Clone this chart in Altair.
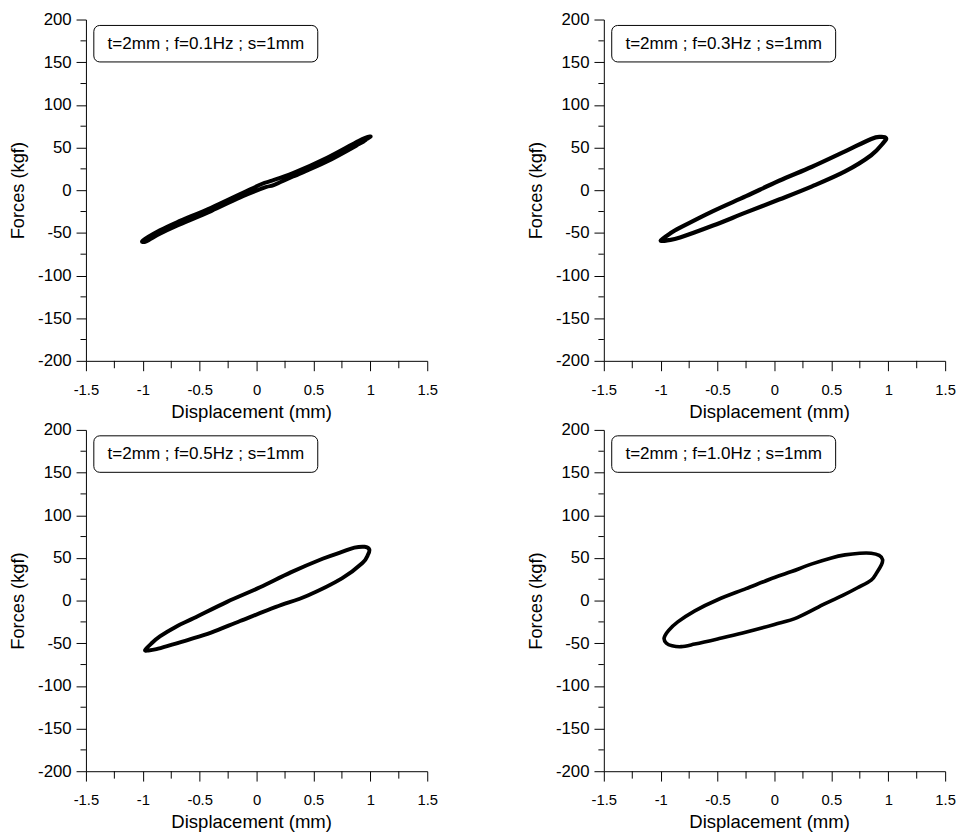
import altair as alt
import pandas as pd

FONT = "Liberation Sans"

labels = ["t=2mm ; f=0.1Hz ; s=1mm", "t=2mm ; f=0.3Hz ; s=1mm",
          "t=2mm ; f=0.5Hz ; s=1mm", "t=2mm ; f=1.0Hz ; s=1mm"]

x_major = [-1.5, -1, -0.5, 0, 0.5, 1, 1.5]
x_minor = [-1.25, -0.75, -0.25, 0.25, 0.75, 1.25]
y_major = [-200, -150, -100, -50, 0, 50, 100, 150, 200]
y_minor = [-175, -125, -75, -25, 25, 75, 125, 175]

# f = 0.1 Hz (very narrow loop)
p1_x = [-1.00, -0.85, -0.70, -0.40, -0.12, 0.05, 0.12, 0.32, 0.61, 0.90, 1.00,
        0.97, 0.90, 0.61, 0.32, 0.15, 0.08, -0.12, -0.40, -0.70, -0.85, -0.97]
p1_y = [-59, -47, -37.5, -20.5, -3, 7.5, 10.5, 20, 37.5, 58, 63,
        60, 54, 33, 16, 6, 3.5, -7, -24.5, -41.5, -51, -60]

# f = 0.3 Hz
p2_x = [-1.00, -0.92, -0.83, -0.54, -0.25, 0.04, 0.33, 0.62, 0.85, 0.93, 0.98,
        0.96, 0.85, 0.62, 0.33, 0.04, -0.25, -0.54, -0.83, -0.93]
p2_y = [-59, -51, -44, -24.5, -7, 11, 27.5, 45.5, 60, 62.5, 61,
        56, 41, 22, 4.5, -11, -26, -41.5, -55.5, -58.5]

# f = 0.5 Hz
p3_x = [-0.98, -0.93, -0.85, -0.70, -0.55, -0.26, 0.03, 0.30, 0.58, 0.75, 0.86, 0.95, 0.99,
        0.98, 0.93, 0.75, 0.45, 0.17, -0.145, -0.40, -0.60, -0.75, -0.88, -0.95]
p3_y = [-58, -51, -42, -30, -20.5, -1.5, 15.5, 33, 49, 57, 62, 63, 60,
        54, 44, 26, 6, -7.5, -24, -37.5, -46, -52, -57, -58.5]

# f = 1.0 Hz
p4_x = [-0.97, -0.93, -0.85, -0.70, -0.50, -0.25, 0.00, 0.15, 0.33, 0.50, 0.62, 0.75, 0.85, 0.92, 0.95,
        0.94, 0.90, 0.85, 0.73, 0.60, 0.44, 0.20, 0.00, -0.28, -0.50, -0.70, -0.82, -0.90, -0.95]
p4_y = [-44, -35, -25, -12, 1, 14, 27, 34, 43, 50, 53.5, 55.5, 55.5, 53, 48,
        42, 33, 24, 15, 6, -4, -20, -28, -38, -45, -51, -54, -53, -50]

W = 346
H = 346


def panel(xs, ys, label, sw):
    loop_df = pd.DataFrame({"x": xs, "y": ys, "i": list(range(len(xs)))})
    xsc = alt.Scale(domain=[-1.5, 1.5], nice=False, zero=False)
    ysc = alt.Scale(domain=[-200, 200], nice=False, zero=False)
    xaxis = alt.Axis(values=x_major, title="Displacement (mm)", labelExpr="'' + datum.value",
                     tickSize=10, labelFontSize=15, labelPadding=12, labelFlush=False,
                     titleFontSize=18.8, titleX=167.5, titleY=57, titleBaseline="alphabetic")
    yaxis = alt.Axis(values=y_major, title="Forces (kgf)", labelExpr="'' + datum.value",
                     tickSize=10, labelFontSize=17, labelPadding=5, labelFlush=False,
                     titleFontSize=18.5, titleX=-69, titleY=173, titleBaseline="middle")
    loop = alt.Chart(loop_df).mark_line(
        color="black", strokeWidth=sw, interpolate="cardinal-closed", strokeJoin="round"
    ).encode(
        x=alt.X("x:Q", scale=xsc, axis=xaxis),
        y=alt.Y("y:Q", scale=ysc, axis=yaxis),
        order=alt.Order("i:Q"),
    )
    xminor = alt.Chart(pd.DataFrame({"v": x_minor})).mark_rule(color="black", strokeWidth=1).encode(
        x=alt.X("v:Q", scale=xsc, axis=xaxis), y=alt.value(H), y2=alt.value(H + 7.5))
    yminor = alt.Chart(pd.DataFrame({"v": y_minor})).mark_rule(color="black", strokeWidth=1).encode(
        y=alt.Y("v:Q", scale=ysc, axis=yaxis), x=alt.value(-5.5), x2=alt.value(0))
    lab_df = pd.DataFrame({"t": [label]})
    box = alt.Chart(lab_df).mark_rect(fill="white", stroke="black", strokeWidth=1, cornerRadius=6).encode(
        x=alt.value(8), x2=alt.value(235), y=alt.value(6), y2=alt.value(43))
    txt = alt.Chart(lab_df).mark_text(font=FONT, fontSize=17.3, align="center", baseline="middle",
                                      color="black").encode(
        x=alt.value(121.5), y=alt.value(24.5), text="t:N")
    return alt.layer(loop, xminor, yminor, box, txt).properties(width=W, height=H)


charts = [
    panel(p1_x, p1_y, labels[0], 4),
    panel(p2_x, p2_y, labels[1], 4.3),
    panel(p3_x, p3_y, labels[2], 4),
    panel(p4_x, p4_y, labels[3], 3.7),
]

chart = alt.concat(*charts, columns=2, spacing={"row": 0, "column": 90}).properties(
    padding={"left": 1, "top": -3, "right": 0, "bottom": 0}, background="white"
).configure_view(strokeWidth=0).configure_axis(
    grid=False, domainColor="black", tickColor="black", labelColor="black", titleColor="black",
    labelFont=FONT, titleFont=FONT, titleFontWeight="normal", domainWidth=1, tickWidth=1
)

chart.save("out.html", embed_options={"renderer": "svg", "actions": False})
